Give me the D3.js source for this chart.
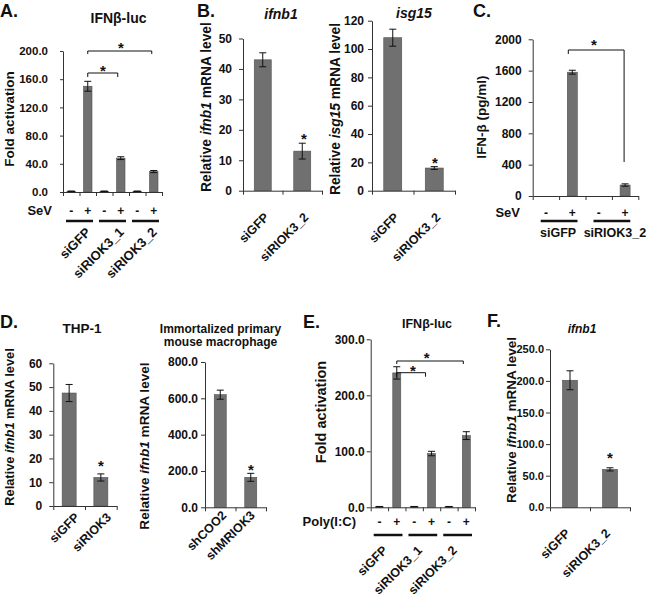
<!DOCTYPE html>
<html>
<head>
<meta charset="utf-8">
<script src="https://cdn.jsdelivr.net/npm/d3@7"></script>
<style>
  html, body { margin: 0; padding: 0; background: #fff; }
  svg { display: block; }
  text { font-family: "Liberation Sans", Arial, sans-serif; font-weight: bold; fill: #111; }
</style>
</head>
<body>
<svg id="fig" width="650" height="601"></svg>
<script>
// ---------------- DATA ----------------
// Panel A: IFNβ-luc, SeV
const aGroups = ["siGFP", "siRIOK3_1", "siRIOK3_2"];
const aSeV = ["-", "+", "-", "+", "-", "+"];
const aValues = [1, 150, 1, 48, 1, 29];
const aErrors = [0.4, 7, 0.4, 2, 0.4, 1.5];
const aTicks = [0, 40, 80, 120, 160, 200];

// Panel B: ifnb1 and isg15 mRNA
const bCategories = ["siGFP", "siRIOK3_2"];
const bIfnb1Values = [43, 13];
const bIfnb1Errors = [2.3, 2.6];
const bIfnb1Ticks = [0, 10, 20, 30, 40, 50];
const bIsg15Values = [108, 16];
const bIsg15Errors = [6, 1];
const bIsg15Ticks = [0, 20, 40, 60, 80, 100, 120];

// Panel C: IFN-β ELISA
const cGroups = ["siGFP", "siRIOK3_2"];
const cSeV = ["-", "+", "-", "+"];
const cValues = [0, 1580, 0, 140];
const cErrors = [0, 25, 0, 15];
const cTicks = [0, 400, 800, 1200, 1600, 2000];

// Panel D: THP-1 and immortalized macrophage
const dThpCategories = ["siGFP", "siRIOK3"];
const dThpValues = [47.5, 12];
const dThpErrors = [3.6, 1.5];
const dThpTicks = [0, 10, 20, 30, 40, 50, 60];
const dMacCategories = ["shCOO2", "shMRIOK3"];
const dMacValues = [620, 165];
const dMacErrors = [25, 22];
const dMacTicks = [0, 200, 400, 600, 800];

// Panel E: IFNβ-luc, Poly(I:C)
const eGroups = ["siGFP", "siRIOK3_1", "siRIOK3_2"];
const ePoly = ["-", "+", "-", "+", "-", "+"];
const eValues = [1, 240, 1, 96, 1, 128];
const eErrors = [0.5, 11, 0.5, 4, 0.5, 7];
const eTicks = [0, 100, 200, 300];

// Panel F: ifnb1 mRNA
const fCategories = ["siGFP", "siRIOK3_2"];
const fValues = [201, 60];
const fErrors = [15, 2.5];
const fTicks = [0, 50, 100, 150, 200, 250];

// ---------------- DRAWING ----------------
const svg = d3.select("#fig");
const BAR_FILL = "#707070", BAR_STROKE = "#505050", AXIS = "#333";

function chart(o) {
  const g = svg.append("g");
  const n = o.values.length;
  const y = d3.scaleLinear().domain([0, d3.max(o.ticks)]).range([o.yb, o.yt]);
  const x = d3.scaleBand().domain(d3.range(n)).range([o.x0, o.x1]);
  const xb = d3.scaleLinear().domain([0, n]).range([o.x0, o.x1]);

  g.selectAll("rect.bar").data(o.values).join("rect")
    .attr("x", (d, i) => x(i) + x.bandwidth() / 2 - o.barW / 2)
    .attr("width", o.barW)
    .attr("y", d => y(d))
    .attr("height", d => y(0) - y(d))
    .attr("fill", BAR_FILL).attr("stroke", BAR_STROKE).attr("stroke-width", 0.6);

  const cap = Math.min(o.barW / 2, 3.5);
  o.values.forEach((v, i) => {
    const e = o.errors[i];
    if (!v && !e) return;
    const cx = x(i) + x.bandwidth() / 2;
    const eg = g.append("g").attr("stroke", "#111").attr("stroke-width", 1);
    eg.append("line").attr("x1", cx).attr("x2", cx).attr("y1", y(v + e)).attr("y2", y(Math.max(0, v - e)));
    eg.append("line").attr("x1", cx - cap).attr("x2", cx + cap).attr("y1", y(v + e)).attr("y2", y(v + e));
    eg.append("line").attr("x1", cx - cap).attr("x2", cx + cap).attr("y1", y(Math.max(0, v - e))).attr("y2", y(Math.max(0, v - e)));
  });

  const ya = g.append("g").attr("transform", `translate(${o.x0},0)`)
    .call(d3.axisLeft(y).tickValues(o.ticks).tickFormat(d3.format(o.fmt))
      .tickSize(o.tickSize || 4).tickSizeOuter(0).tickPadding(o.pad));
  ya.select(".domain").attr("stroke", AXIS);
  ya.selectAll(".tick line").attr("stroke", AXIS);
  ya.selectAll(".tick text").style("font-size", o.tf + "px").attr("fill", "#111")
    .style("font-family", '"Liberation Sans", Arial, sans-serif').style("font-weight", "bold");

  const xa = g.append("g").attr("transform", `translate(0,${o.yb})`)
    .call(d3.axisBottom(xb).tickValues(d3.range(n + 1)).tickFormat("").tickSize(4).tickSizeOuter(0));
  xa.select(".domain").attr("stroke", AXIS);
  xa.selectAll(".tick line").attr("stroke", AXIS);

  return { g, x, y, cx: i => x(i) + x.bandwidth() / 2 };
}

function txt(x, y, s, size, opts = {}) {
  const t = svg.append("text").attr("x", x).attr("y", y)
    .style("font-size", size + "px")
    .attr("text-anchor", opts.anchor || "start");
  if (opts.italic) t.style("font-style", "italic");
  if (opts.rotate !== undefined) t.attr("transform", `rotate(${opts.rotate},${x},${y})`);
  return t.text(s);
}

function ylabel(x, y, parts, size) {
  const t = svg.append("text").attr("x", x).attr("y", y)
    .attr("text-anchor", "middle").style("font-size", size + "px")
    .attr("transform", `rotate(-90,${x},${y})`);
  parts.forEach(p => {
    const ts = t.append("tspan").text(p[0]);
    if (p[1]) ts.style("font-style", "italic");
  });
}

function star(x, cy, size = 15) {
  txt(x, cy + size * 0.5, "*", size, { anchor: "middle" });
}

function bracket(x1, x2, yy, drop1, drop2) {
  svg.append("path")
    .attr("d", `M${x1},${yy + drop1}V${yy}H${x2}V${yy + drop2}`)
    .attr("fill", "none").attr("stroke", "#111").attr("stroke-width", 1);
}

function treatmentRow(c, signs, groups, o) {
  signs.forEach((s, i) => txt(c.cx(i), o.signY, s, o.sf, { anchor: "middle" }));
  txt(o.labelX, o.signY, o.label, o.lf, { anchor: "end" });
  groups.forEach((gname, k) => {
    const xl = c.x(2 * k) + o.inset, xr = c.x(2 * k + 1) + c.x.bandwidth() - o.inset;
    svg.append("line").attr("x1", xl).attr("x2", xr).attr("y1", o.lineY).attr("y2", o.lineY)
      .attr("stroke", "#111").attr("stroke-width", 2.5);
  });
}

const fmt0 = "d", fmt1 = ".1f";

// ---------- Panel A ----------
txt(0, 17, "A.", 18);
txt(118.5, 23, "IFNβ-luc", 14, { anchor: "middle" });
const A = chart({ x0: 63, x1: 162, yt: 51, yb: 192, values: aValues, errors: aErrors, ticks: aTicks,
  fmt: fmt1, barW: 8.5, tf: 11.5, pad: 12, tickSize: 3 });
ylabel(14, 119, [["Fold activation"]], 13.5);
treatmentRow(A, aSeV, aGroups, { signY: 215, sf: 12, label: "SeV", labelX: 52, lf: 13, lineY: 221, inset: 3 });
aGroups.forEach((gname, k) => {
  const gx = (A.cx(2 * k) + A.cx(2 * k + 1)) / 2 + 12;
  txt(gx, 233, gname, 13, { anchor: "end", rotate: -45 });
});
bracket(A.cx(1), A.cx(5) - 2, 51, 3, 3);
star(121, 45);
bracket(A.cx(1), A.cx(3) - 3, 73, 4, 4);
star(103, 68);

// ---------- Panel B ----------
txt(197, 17, "B.", 18);
txt(281, 19, "ifnb1", 14, { anchor: "middle", italic: true });
const B1 = chart({ x0: 243, x1: 322, yt: 38.5, yb: 190.7, values: bIfnb1Values, errors: bIfnb1Errors,
  ticks: bIfnb1Ticks, fmt: fmt0, barW: 17, tf: 12, pad: 7 });
ylabel(210.5, 107, [["Relative "], ["ifnb1", true], [" mRNA level"]], 13.8);
bCategories.forEach((c, i) => txt(B1.cx(i) + 7, 218, c, 12.5, { anchor: "end", rotate: -45 }));
star(304, 136);

txt(414, 18, "isg15", 14, { anchor: "middle", italic: true });
const B2 = chart({ x0: 372, x1: 455, yt: 20.7, yb: 190.7, values: bIsg15Values, errors: bIsg15Errors,
  ticks: bIsg15Ticks, fmt: fmt0, barW: 18, tf: 12, pad: 4 });
ylabel(339.5, 109, [["Relative "], ["isg15", true], [" mRNA level"]], 13.8);
bCategories.forEach((c, i) => txt(B2.cx(i) + 7, 218, c, 12.5, { anchor: "end", rotate: -45 }));
star(435, 160);

// ---------- Panel C ----------
txt(473, 17, "C.", 18);
const C = chart({ x0: 532.7, x1: 638.3, yt: 39.3, yb: 196, values: cValues, errors: cErrors,
  ticks: cTicks, fmt: fmt0, barW: 10, tf: 12, pad: 7 });
ylabel(485.5, 117, [["IFN-β (pg/ml)"]], 13.5);
treatmentRow(C, cSeV, cGroups, { signY: 217, sf: 12, label: "SeV", labelX: 520, lf: 13, lineY: 221, inset: 8 });
cGroups.forEach((gname, k) => {
  const gx = (C.cx(2 * k) + C.cx(2 * k + 1)) / 2;
  txt(gx + (k ? 3 : -1), 237, gname, 12.5, { anchor: "middle" });
});
bracket(C.cx(1) - 4, C.cx(3) - 1, 50, 4, 112);
star(594, 42);

// ---------- Panel D ----------
txt(0, 328, "D.", 18);
txt(82, 333, "THP-1", 13.5, { anchor: "middle" });
const D1 = chart({ x0: 53.3, x1: 116.7, yt: 363.3, yb: 506, values: dThpValues, errors: dThpErrors,
  ticks: dThpTicks, fmt: fmt0, barW: 14, tf: 12, pad: 7 });
ylabel(13.5, 427, [["Relative "], ["ifnb1", true], [" mRNA level"]], 12.8);
dThpCategories.forEach((c, i) => txt(D1.cx(i) + 11, 518, c, 12.5, { anchor: "end", rotate: -45 }));
star(101, 463);

txt(220.5, 333, "Immortalized primary", 12, { anchor: "middle" });
txt(220.5, 345.5, "mouse macrophage", 12, { anchor: "middle" });
const D2 = chart({ x0: 205, x1: 266, yt: 362, yb: 507.3, values: dMacValues, errors: dMacErrors,
  ticks: dMacTicks, fmt: fmt1, barW: 12, tf: 12, pad: 3 });
ylabel(148.5, 446, [["Relative "], ["ifnb1", true], [" mRNA level"]], 13.6);
dMacCategories.forEach((c, i) => txt(D2.cx(i) + (i ? 5 : 7), 516, c, 12.5, { anchor: "end", rotate: -45 }));
star(251, 467);

// ---------- Panel E ----------
txt(303, 328, "E.", 18);
txt(427, 328, "IFNβ-luc", 12.5, { anchor: "middle" });
const E = chart({ x0: 370.7, x1: 475, yt: 339.3, yb: 507.3, values: eValues, errors: eErrors,
  ticks: eTicks, fmt: fmt1, barW: 8, tf: 12, pad: 2 });
ylabel(326, 412, [["Fold activation"]], 14.5);
treatmentRow(E, ePoly, eGroups, { signY: 526, sf: 12, label: "Poly(I:C)", labelX: 356, lf: 13, lineY: 535, inset: 3 });
eGroups.forEach((gname, k) => {
  const gx = (E.cx(2 * k) + E.cx(2 * k + 1)) / 2;
  txt(gx, 551, gname, 12.5, { anchor: "end", rotate: -45 });
});
bracket(E.cx(1), E.cx(5) - 3, 361, 3, 3);
star(426.7, 355);
bracket(E.cx(1), E.cx(3) - 6, 372.7, 4, 4);
star(413, 368);

// ---------- Panel F ----------
txt(487, 327, "F.", 18);
txt(582, 333, "ifnb1", 12, { anchor: "middle", italic: true });
const F = chart({ x0: 550, x1: 630, yt: 349.3, yb: 507.3, values: fValues, errors: fErrors,
  ticks: fTicks, fmt: fmt1, barW: 15, tf: 11, pad: 2 });
ylabel(516, 420, [["Relative "], ["ifnb1", true], [" mRNA level"]], 13.5);
fCategories.forEach((c, i) => txt(F.cx(i) + 1, 534, c, 12.5, { anchor: "end", rotate: -45 }));
star(610, 455);
</script>
</body>
</html>
